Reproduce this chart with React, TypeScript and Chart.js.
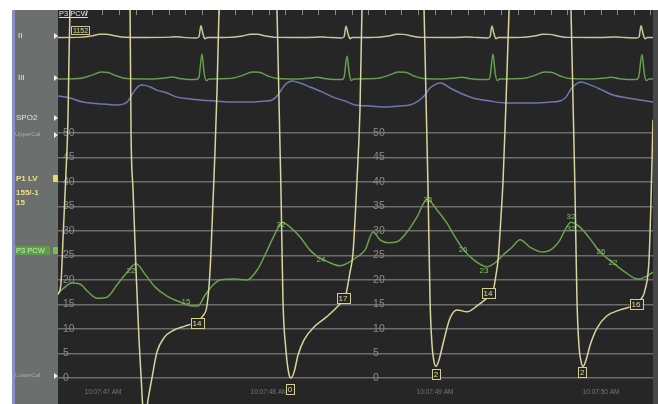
import React, { useEffect, useRef } from "react";
import { Chart, registerables } from "chart.js";

Chart.register(...registerables);

const FONT = '"Liberation Sans", Arial, sans-serif';

// time axis: seconds after 10:07:47
const T_MIN = -0.271;
const T_MAX = 3.313;
// pressure axis (mmHg) at bottom / top edge of the trace area
const P_MIN = -5.3;
const P_MAX = 75.1;
const PRESSURE_TICKS = [0, 5, 10, 15, 20, 25, 30, 35, 40, 45, 50];
const TIME_TICKS = [0, 1, 2, 3];
const TIME_LABELS = ["10:07:47 AM", "10:07:48 AM", "10:07:49 AM", "10:07:50 AM"];
const MID_SCALE_T = 1.627;

// P1 LV pressure (mmHg)
const LV_T = [
  -0.271, -0.253, -0.241, -0.229, -0.217, -0.211, -0.205, -0.199, -0.139, -0.048, 0.042, 0.114,
  0.163, 0.169, 0.181, 0.199, 0.217, 0.229, 0.241, 0.253, 0.271, 0.295, 0.325, 0.367, 0.428,
  0.494, 0.56, 0.602, 0.627, 0.645, 0.663, 0.675, 0.687, 0.699, 0.765, 0.855, 0.934, 1.006,
  1.048, 1.06, 1.072, 1.084, 1.102, 1.12, 1.133, 1.151, 1.175, 1.211, 1.277, 1.355, 1.428,
  1.458, 1.488, 1.506, 1.53, 1.548, 1.56, 1.63, 1.72, 1.81, 1.89, 1.934, 1.946, 1.958, 1.97,
  1.982, 1.994, 2.006, 2.024, 2.054, 2.09, 2.133, 2.193, 2.253, 2.313, 2.349, 2.367, 2.38,
  2.398, 2.41, 2.428, 2.446, 2.512, 2.602, 2.69, 2.775, 2.819, 2.831, 2.843, 2.855, 2.867,
  2.88, 2.892, 2.91, 2.934, 2.976, 3.036, 3.114, 3.187, 3.235, 3.265, 3.289, 3.301, 3.313,
  3.325, 3.34,
];
const LV_V = [
  17.0, 19.4, 28.2, 37.3, 46.5, 52.7, 64.9, 75.1, 130, 155, 150, 120,
  75.1, 50.0, 38.4, 22.0, 7.8, 0.6, -6.5, -8.6, -4.5, 0.0, 5.3, 8.2, 9.8,
  10.6, 11.4, 12.7, 14.9, 22.0, 36.3, 46.5, 58.8, 75.1, 130, 155, 150, 118,
  75.1, 56.7, 38.4, 15.9, 5.7, 0.8, 0.0, 1.2, 4.7, 7.8, 10.6, 12.7, 15.1,
  16.3, 21.6, 25.5, 40.4, 54.7, 75.1, 130, 156, 150, 118, 75.1, 56.7, 38.4, 15.9,
  6.7, 3.3, 2.4, 3.7, 7.8, 12.2, 13.9, 13.5, 14.7, 16.3, 17.6, 21.0, 24.1,
  33.3, 40.4, 56.7, 75.1, 130, 155, 150, 118, 75.1, 56.7, 38.4, 15.9, 6.7,
  3.3, 2.4, 3.7, 6.7, 10.2, 12.7, 13.9, 14.7, 15.9, 18.0, 24.1, 36.3, 52.7,
  69.0, 90,
];

// P3 PCW pressure (mmHg)
const PCW_T = [
  -0.271, -0.235, -0.187, -0.139, -0.09, -0.036, 0.024, 0.084, 0.145, 0.199, 0.253, 0.313,
  0.386, 0.464, 0.536, 0.572, 0.614, 0.663, 0.705, 0.795, 0.867, 0.928, 0.976, 1.018, 1.054,
  1.078, 1.127, 1.187, 1.247, 1.295, 1.355, 1.428, 1.476, 1.53, 1.578, 1.627, 1.669, 1.717,
  1.771, 1.831, 1.892, 1.952, 2.012, 2.072, 2.12, 2.169, 2.241, 2.313, 2.361, 2.41, 2.464,
  2.512, 2.572, 2.651, 2.711, 2.753, 2.789, 2.819, 2.873, 2.934, 2.994, 3.066, 3.145, 3.223,
  3.265, 3.313,
];
const PCW_V = [
  17.3, 18.4, 19.4, 19.2, 17.6, 16.3, 16.5, 19.0, 21.6, 23.3, 21.2, 18.6,
  16.7, 15.5, 14.7, 14.7, 16.9, 19.0, 20.0, 20.2, 20.0, 22.0, 25.1, 28.2, 30.6,
  31.8, 30.8, 28.8, 26.1, 24.7, 23.7, 22.9, 23.5, 24.7, 26.1, 29.8, 28.2, 27.6,
  27.8, 29.8, 32.9, 36.5, 34.3, 31.6, 28.8, 26.3, 23.9, 22.7, 23.5, 25.1, 26.7,
  28.2, 26.7, 25.7, 26.5, 28.2, 30.6, 31.8, 30.8, 28.4, 25.7, 23.7, 21.6, 20.2,
  20.6, 21.6,
];

// ECG lead II (mV)
const ECG2_T = [
  -0.271, -0.15, -0.07, -0.02, 0.02, 0.07, 0.13, 0.25, 0.4, 0.44, 0.48, 0.56, 0.578, 0.59,
  0.602, 0.614, 0.63, 0.76, 0.84, 0.89, 0.93, 0.98, 1.04, 1.15, 1.28, 1.32, 1.36, 1.435,
  1.452, 1.464, 1.476, 1.488, 1.5, 1.64, 1.72, 1.77, 1.81, 1.86, 1.92, 2.05, 2.16, 2.2, 2.24,
  2.315, 2.331, 2.343, 2.355, 2.367, 2.38, 2.52, 2.6, 2.65, 2.69, 2.74, 2.8, 2.95, 3.05,
  3.09, 3.13, 3.213, 3.229, 3.241, 3.253, 3.265, 3.28, 3.32,
];
const ECG2_V = [
  0.0, 0.01, 0.12, 0.26, 0.27, 0.14, 0.02, 0.0, 0.03, 0.06, 0.01, -0.04, 0.05, 0.95,
  0.3, -0.1, 0.0, 0.01, 0.12, 0.27, 0.26, 0.12, 0.01, 0.0, 0.02, 0.05, 0.01, -0.04,
  0.05, 0.9, 0.3, -0.1, 0.0, 0.01, 0.12, 0.26, 0.25, 0.12, 0.01, 0.0, 0.02, 0.05, 0.01,
  -0.04, 0.05, 0.92, 0.3, -0.1, 0.0, 0.01, 0.12, 0.26, 0.25, 0.12, 0.01, 0.0, 0.02,
  0.05, 0.01, -0.04, 0.05, 0.95, 0.3, -0.1, 0.0, 0.0,
];

// ECG lead III (mV)
const ECG3_T = [
  -0.271, -0.15, -0.07, -0.01, 0.03, 0.08, 0.14, 0.3, 0.38, 0.42, 0.46, 0.56, 0.578, 0.596,
  0.61, 0.622, 0.64, 0.76, 0.84, 0.9, 0.94, 0.99, 1.05, 1.18, 1.25, 1.29, 1.33, 1.44, 1.452,
  1.47, 1.484, 1.496, 1.51, 1.64, 1.72, 1.78, 1.82, 1.87, 1.93, 2.05, 2.12, 2.16, 2.2, 2.32,
  2.331, 2.349, 2.363, 2.375, 2.39, 2.52, 2.6, 2.66, 2.7, 2.75, 2.81, 2.95, 3.02, 3.06, 3.1,
  3.21, 3.226, 3.247, 3.261, 3.273, 3.29, 3.32,
];
const ECG3_V = [
  0.0, 0.02, 0.18, 0.35, 0.33, 0.16, 0.02, 0.0, 0.06, 0.1, 0.03, -0.03, 0.08, 1.25,
  0.25, -0.08, 0.0, 0.02, 0.18, 0.35, 0.34, 0.16, 0.02, 0.0, 0.05, 0.09, 0.03, -0.03, 0.08,
  1.15, 0.25, -0.08, 0.0, 0.02, 0.18, 0.35, 0.34, 0.16, 0.02, 0.0, 0.05, 0.09, 0.03, -0.03,
  0.08, 1.25, 0.25, -0.08, 0.0, 0.02, 0.18, 0.35, 0.34, 0.16, 0.02, 0.0, 0.05, 0.09, 0.03,
  -0.03, 0.08, 1.22, 0.25, -0.08, 0.0, 0.0,
];

// SpO2 pleth (relative amplitude)
const PLETH_T = [
  -0.271, -0.199, -0.12, -0.018, 0.084, 0.127, 0.151, 0.169, 0.193, 0.217, 0.241, 0.283,
  0.325, 0.386, 0.446, 0.524, 0.584, 0.675, 0.783, 0.886, 0.976, 1.018, 1.042, 1.066, 1.096,
  1.139, 1.187, 1.247, 1.319, 1.386, 1.458, 1.518, 1.608, 1.711, 1.789, 1.849, 1.898, 1.934,
  1.97, 2.006, 2.036, 2.09, 2.151, 2.229, 2.331, 2.434, 2.572, 2.693, 2.753, 2.789, 2.819,
  2.849, 2.88, 2.934, 2.994, 3.072, 3.157, 3.235, 3.313,
];
const PLETH_V = [
  42, 35, 19, 12, 8, 12, 23, 42, 65, 81, 85, 77,
  65, 54, 38, 31, 27, 23, 19, 19, 23, 27, 38, 58, 85,
  100, 92, 77, 58, 38, 23, 8, 4, 0, 4, 8, 23, 42,
  73, 88, 92, 73, 54, 35, 23, 15, 15, 19, 23, 38, 69,
  88, 96, 85, 69, 46, 35, 27, 19,
];

// monitor annotations
const LV_LABEL_T = [0.566, 1.127, 1.446, 2.006, 2.319, 2.886, 3.211];
const LV_LABEL_V = [11.2, -2.2, 16.3, 0.8, 17.3, 1.2, 15.1];
const LV_LABEL_TEXT = ["14", "0", "17", "2", "14", "2", "16"];
const PCW_LABEL_T = [0.169, 0.5, 1.072, 1.313, 1.958, 2.169, 2.295, 2.819, 2.819, 3.0, 3.072];
const PCW_LABEL_V = [21.8, 15.5, 31.2, 24.1, 36.3, 26.1, 21.8, 32.9, 30.4, 25.7, 23.5];
const PCW_LABEL_TEXT = ["22", "15", "32", "24", "36", "26", "23", "32", "32", "26", "22"];

const pts = (ts: number[], vs: number[]) => ts.map((t, i) => ({ x: t, y: vs[i] }));

const bgPlugin = {
  id: "monitorBg",
  beforeDraw(chart: any) {
    const { ctx, chartArea: a } = chart;
    ctx.save();
    ctx.fillStyle = "#262626";
    ctx.fillRect(a.left, a.top, a.right - a.left, a.bottom - a.top);
    ctx.fillStyle = "#474747";
    ctx.fillRect(a.right, a.top, chart.width - a.right, a.bottom - a.top);
    ctx.restore();
  },
  beforeDatasetsDraw(chart: any) {
    const { ctx, scales } = chart;
    const x = scales.x, y = scales.y;
    ctx.save();
    ctx.font = `10.5px ${FONT}`;
    ctx.fillStyle = "#8c8c8c";
    ctx.textAlign = "left";
    ctx.textBaseline = "middle";
    const mx = x.getPixelForValue(MID_SCALE_T);
    PRESSURE_TICKS.forEach((v) => ctx.fillText(String(v), mx, y.getPixelForValue(v)));
    ctx.restore();
  },
  afterDatasetsDraw(chart: any) {
    const { ctx, scales } = chart;
    const x = scales.x, y = scales.y;
    ctx.save();
    ctx.font = `8px ${FONT}`;
    ctx.textAlign = "center";
    ctx.textBaseline = "middle";
    PCW_LABEL_TEXT.forEach((s, i) => {
      ctx.fillStyle = "#86c266";
      ctx.fillText(s, x.getPixelForValue(PCW_LABEL_T[i]), y.getPixelForValue(PCW_LABEL_V[i]));
    });
    LV_LABEL_TEXT.forEach((s, i) => {
      const px = x.getPixelForValue(LV_LABEL_T[i]);
      const py = y.getPixelForValue(LV_LABEL_V[i]);
      const w = Math.max(ctx.measureText(s).width + 4, 8);
      ctx.fillStyle = "#262626";
      ctx.fillRect(px - w / 2, py - 5, w, 10);
      ctx.strokeStyle = "#d4cf8c";
      ctx.lineWidth = 1;
      ctx.strokeRect(Math.round(px - w / 2) + 0.5, Math.round(py - 5) + 0.5, Math.round(w), 10);
      ctx.fillStyle = "#e2dda0";
      ctx.fillText(s, px, py + 0.5);
    });
    ctx.restore();
  },
};

export default function App() {
  const ref = useRef<HTMLCanvasElement>(null);

  useEffect(() => {
    const line = (data: any[], color: string, yAxisID: string, order: number) => ({
      data,
      borderColor: color,
      borderWidth: 1.5,
      pointRadius: 0,
      cubicInterpolationMode: "monotone" as const,
      yAxisID,
      order,
      fill: false,
    });
    const chart = new Chart(ref.current!, {
      type: "line",
      data: {
        datasets: [
          { label: "P1 LV", ...line(pts(LV_T, LV_V), "#d9d49e", "y", 0) },
          { label: "P3 PCW", ...line(pts(PCW_T, PCW_V), "#6aa24e", "y", 1) },
          { label: "II", ...line(pts(ECG2_T, ECG2_V), "#c9c79a", "yII", 2) },
          { label: "III", ...line(pts(ECG3_T, ECG3_V), "#669d4f", "yIII", 3) },
          { label: "SPO2", ...line(pts(PLETH_T, PLETH_V), "#6d78b0", "yPleth", 4) },
        ],
      },
      options: {
        responsive: false,
        maintainAspectRatio: false,
        devicePixelRatio: 1,
        animation: false,
        events: [],
        layout: { padding: { left: 58, top: 10, right: 5, bottom: 0 } },
        plugins: { legend: { display: false }, tooltip: { enabled: false } },
        scales: {
          x: {
            type: "linear",
            min: T_MIN,
            max: T_MAX,
            position: { y: -1.6 } as any,
            grid: { display: false, drawTicks: false, tickLength: 0 },
            border: { display: false },
            afterBuildTicks: (s: any) => {
              s.ticks = TIME_TICKS.map((v) => ({ value: v }));
            },
            ticks: {
              autoSkip: false,
              maxRotation: 0,
              padding: 2,
              color: "#777777",
              font: { size: 6.5, family: FONT },
              callback: (_v: any, i: number) => TIME_LABELS[i],
            },
          },
          xTop: {
            type: "linear",
            axis: "x",
            min: T_MIN,
            max: T_MAX,
            position: { y: P_MAX } as any,
            grid: {
              display: true,
              drawOnChartArea: false,
              drawTicks: true,
              tickLength: 5,
              tickColor: "#8c8c8c",
              tickWidth: 1,
            },
            border: { display: false },
            ticks: { display: false },
            afterBuildTicks: (s: any) => {
              const t: any[] = [];
              for (let k = -2; k <= 33; k++) t.push({ value: k / 10 });
              s.ticks = t;
            },
          },
          y: {
            type: "linear",
            min: P_MIN,
            max: P_MAX,
            position: "left",
            afterBuildTicks: (s: any) => {
              s.ticks = PRESSURE_TICKS.map((v) => ({ value: v }));
            },
            afterFit: (s: any) => {
              s.width = 0;
              s.paddingTop = 0;
              s.paddingBottom = 0;
            },
            grid: { color: "#6c6c6c", lineWidth: 1.5, drawTicks: false },
            border: { display: false },
            ticks: {
              mirror: true,
              padding: 5,
              color: "#8c8c8c",
              font: { size: 10.5, family: FONT },
            },
          },
          yII: { type: "linear", display: false, min: -29.32, max: 2.2 },
          yIII: { type: "linear", display: false, min: -16.25, max: 3.45 },
          yPleth: { type: "linear", display: false, min: -1142.3, max: 373.1 },
        },
      },
      plugins: [bgPlugin],
    } as any);
    return () => chart.destroy();
  }, []);

  const txt = (s: string, left: number, top: number, size: number, color: string, extra: any = {}) => (
    <div
      style={{
        position: "absolute",
        left,
        top,
        fontSize: size,
        lineHeight: `${size + 1}px`,
        color,
        whiteSpace: "nowrap",
        ...extra,
      }}
    >
      {s}
    </div>
  );
  const tri = (cy: number) => (
    <div
      style={{
        position: "absolute",
        left: 54,
        top: cy - 3,
        width: 0,
        height: 0,
        borderTop: "3px solid transparent",
        borderBottom: "3px solid transparent",
        borderLeft: "4px solid #eeeeee",
      }}
    />
  );

  return (
    <div
      style={{
        position: "absolute",
        left: 0,
        top: 0,
        width: 658,
        height: 404,
        background: "#ffffff",
        overflow: "hidden",
        fontFamily: FONT,
      }}
    >
      <div style={{ position: "absolute", left: 12, top: 10, width: 3, height: 394, background: "#8b8cc8" }} />
      <div style={{ position: "absolute", left: 15, top: 10, width: 43, height: 394, background: "#6b706e" }} />
      <canvas ref={ref} width={658} height={404} style={{ position: "absolute", left: 0, top: 0 }} />

      {txt("II", 18, 31, 8, "#e4e4e4")}
      {tri(36)}
      {txt("III", 18, 73, 8, "#e4e4e4")}
      {tri(78)}
      {txt("SPO2", 16, 113, 8, "#e4e4e4")}
      {tri(118)}
      {txt("UpperCal", 15, 131, 6, "#a9aeac")}
      {tri(135)}
      {txt("P1 LV", 16, 174, 8, "#ebe08a", { fontWeight: "bold" })}
      <div style={{ position: "absolute", left: 53, top: 175, width: 5, height: 7, background: "#e6da6a" }} />
      {txt("155/-1", 16, 188, 8, "#ebe08a", { fontWeight: "bold" })}
      {txt("15", 16, 198, 8, "#ebe08a", { fontWeight: "bold" })}
      <div
        style={{
          position: "absolute",
          left: 15,
          top: 246,
          width: 34,
          height: 9,
          background: "#5f9c4c",
          color: "#c9efad",
          fontSize: 7.5,
          lineHeight: "9px",
          paddingLeft: 1,
          whiteSpace: "nowrap",
        }}
      >
        P3 PCW
      </div>
      <div style={{ position: "absolute", left: 53, top: 247, width: 5, height: 7, background: "#72c050" }} />
      {txt("LowerCal", 15, 372, 6, "#a9aeac")}
      {tri(376)}

      {txt("P3 PCW", 59, 10, 7.5, "#e0e0e0", { textDecoration: "underline" })}
      <div
        style={{
          position: "absolute",
          left: 71,
          top: 26,
          height: 7,
          padding: "0 1px",
          border: "1px solid #cfc98a",
          color: "#e0da9a",
          fontSize: 7,
          lineHeight: "7px",
          background: "#262626",
        }}
      >
        1152
      </div>
    </div>
  );
}
